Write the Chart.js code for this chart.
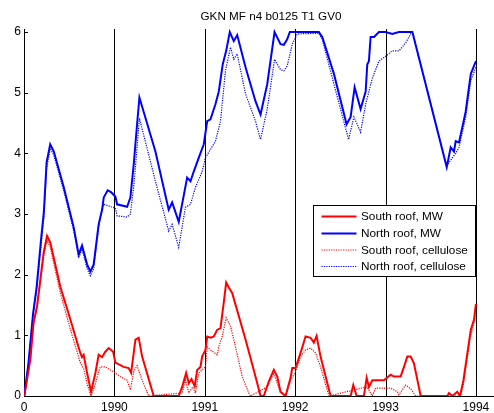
<!DOCTYPE html>
<html>
<head>
<meta charset="utf-8">
<script src="https://cdn.jsdelivr.net/npm/chart.js@4/dist/chart.umd.min.js"></script>
<style>
  html, body { margin: 0; padding: 0; background: #fff; }
  canvas { display: block; }
</style>
</head>
<body>
<canvas id="c" width="494" height="413"></canvas>
<script>
// Moisture content time series, 1989-1994, [year, value] pairs
const southMW = [
  [1989.003,0],[1989.07,0.6],[1989.106,1.21],[1989.144,1.48],[1989.181,1.92],[1989.217,2.36],
  [1989.255,2.64],[1989.291,2.53],[1989.402,1.80],[1989.513,1.26],[1989.623,0.71],[1989.642,0.64],
  [1989.66,0.68],[1989.698,0.38],[1989.742,0.07],[1989.79,0.38],[1989.826,0.68],[1989.864,0.64],
  [1989.9,0.73],[1989.937,0.79],[1989.986,0.73],[1990.011,0.55],[1990.103,0.48],[1990.158,0.46],
  [1990.185,0.38],[1990.233,0.93],[1990.269,0.96],[1990.307,0.65],[1990.435,0],[1990.712,0],
  [1990.75,0.15],[1990.794,0.38],[1990.823,0.21],[1990.853,0.28],[1990.889,0.16],[1990.916,0.43],
  [1990.952,0.48],[1990.971,0.65],[1991.008,0.76],[1991.027,0.98],[1991.063,0.96],[1991.1,0.98],
  [1991.137,1.09],[1991.174,1.12],[1991.21,1.54],[1991.237,1.87],[1991.266,1.79],[1991.303,1.70],
  [1991.451,0.93],[1991.561,0.32],[1991.617,0],[1991.653,0],[1991.709,0.24],[1991.764,0.43],
  [1991.802,0.32],[1991.838,0.07],[1991.894,0],[1991.949,0.30],[1991.968,0.46],[1992.004,0.46],
  [1992.06,0.71],[1992.115,0.98],[1992.171,0.96],[1992.207,0.88],[1992.237,0.99],[1992.281,0.65],
  [1992.392,0],[1992.614,0],[1992.643,0.18],[1992.68,0],[1992.761,0],[1992.791,0.30],
  [1992.816,0.15],[1992.854,0.26],[1992.982,0.26],[1993.057,0.35],[1993.093,0.32],[1993.167,0.32],
  [1993.204,0.48],[1993.241,0.65],[1993.278,0.65],[1993.314,0.54],[1993.389,0],[1993.684,0],
  [1993.702,0.05],[1993.74,0],[1993.794,0.07],[1993.824,0],[1993.862,0.26],[1993.906,0.71],
  [1993.943,1.09],[1993.979,1.26],[1994.0,1.52]
];
const northMW = [
  [1989.003,0],[1989.05,0.55],[1989.10,1.35],[1989.14,1.8],[1989.19,2.6],[1989.22,3.04],
  [1989.25,3.85],[1989.29,4.15],[1989.33,4.03],[1989.44,3.44],[1989.55,2.78],[1989.605,2.33],
  [1989.642,2.48],[1989.698,2.17],[1989.734,2.05],[1989.771,2.17],[1989.826,2.83],[1989.864,3.07],
  [1989.882,3.27],[1989.926,3.39],[1989.963,3.36],[1990.011,3.29],[1990.03,3.16],[1990.141,3.12],
  [1990.177,3.27],[1990.214,3.82],[1990.251,4.48],[1990.277,4.92],[1990.454,4.03],[1990.601,3.07],
  [1990.639,3.19],[1990.712,2.87],[1990.805,3.60],[1990.842,3.54],[1990.878,3.70],[1990.934,3.93],
  [1990.989,4.15],[1991.027,4.53],[1991.063,4.56],[1991.118,4.81],[1991.155,5.02],[1991.199,5.47],
  [1991.237,5.69],[1991.277,6.0],[1991.321,5.85],[1991.359,5.95],[1991.451,5.42],[1991.561,4.86],
  [1991.617,4.64],[1991.691,5.14],[1991.772,6.0],[1991.838,5.80],[1991.875,5.79],[1991.912,5.88],
  [1991.941,6.0],[1992.262,6.0],[1992.3,5.92],[1992.429,5.31],[1992.569,4.48],[1992.614,4.60],
  [1992.658,5.09],[1992.724,4.73],[1992.78,5.02],[1992.798,5.47],[1992.816,5.52],[1992.835,5.92],
  [1992.873,5.92],[1992.927,6.0],[1993.001,6.0],[1993.075,5.97],[1993.148,6.0],[1993.297,6.0],
  [1993.677,3.77],[1993.721,4.10],[1993.757,4.03],[1993.776,4.20],[1993.813,4.18],[1993.887,4.69],
  [1993.943,5.31],[1994.0,5.52]
];
const southCell = [
  [1989.003,0],[1989.07,0.6],[1989.106,1.2],[1989.144,1.45],[1989.181,1.88],[1989.217,2.3],
  [1989.255,2.56],[1989.291,2.45],[1989.402,1.7],[1989.513,1.1],[1989.623,0.55],[1989.66,0.45],
  [1989.698,0.2],[1989.742,0],[1989.79,0.2],[1989.826,0.40],[1989.845,0.48],[1989.9,0.48],
  [1989.956,0.43],[1990.011,0.38],[1990.066,0.32],[1990.141,0.26],[1990.177,0.10],[1990.214,0.40],
  [1990.251,0.50],[1990.307,0.26],[1990.38,0],[1990.75,0.05],[1990.786,0.26],[1990.823,0.05],
  [1990.867,0.15],[1990.897,0.05],[1990.934,0.38],[1990.971,0.43],[1991.008,0.48],[1991.027,0.81],
  [1991.063,0.76],[1991.137,0.68],[1991.155,0.81],[1991.193,0.98],[1991.237,1.29],[1991.285,1.15],
  [1991.34,0.81],[1991.414,0.32],[1991.487,0.05],[1991.506,0],[1991.691,0.15],[1991.764,0.38],
  [1991.838,0.05],[1991.894,0],[1991.949,0.26],[1992.004,0.40],[1992.06,0.65],[1992.115,0.76],
  [1992.171,0.79],[1992.226,0.71],[1992.281,0.48],[1992.373,0],[1992.791,0.15],[1992.816,0.10],
  [1992.854,0],[1992.89,0.13],[1993.001,0.13],[1993.057,0.13],[1993.131,0.07],[1993.148,0.02],
  [1993.222,0.18],[1993.278,0.12],[1993.333,0],[1993.831,0],[1993.862,0.2],[1993.906,0.65],
  [1993.943,1.0],[1993.979,1.2],[1994.0,1.38]
];
const northCell = [
  [1989.003,0],[1989.05,0.55],[1989.10,1.35],[1989.14,1.75],[1989.19,2.5],[1989.22,2.95],
  [1989.25,3.75],[1989.29,4.08],[1989.33,3.97],[1989.44,3.38],[1989.55,2.72],[1989.605,2.28],
  [1989.642,2.42],[1989.698,2.1],[1989.734,1.98],[1989.771,2.1],[1989.826,2.78],[1989.845,2.95],
  [1989.882,3.16],[1989.926,3.14],[1989.963,3.12],[1990.011,3.10],[1990.03,2.97],[1990.141,2.95],
  [1990.177,3.0],[1990.214,3.45],[1990.251,4.1],[1990.277,4.58],[1990.454,3.54],[1990.601,2.72],
  [1990.639,2.83],[1990.712,2.45],[1990.786,3.11],[1990.842,3.16],[1990.897,3.44],[1990.971,3.70],
  [1991.008,3.93],[1991.118,4.2],[1991.174,4.53],[1991.229,5.36],[1991.285,5.75],[1991.321,5.55],
  [1991.359,5.64],[1991.451,4.98],[1991.561,4.53],[1991.617,4.23],[1991.691,4.73],[1991.772,5.55],
  [1991.838,5.38],[1991.875,5.36],[1991.912,5.44],[1991.968,5.80],[1992.023,5.97],[1992.262,5.98],
  [1992.3,5.88],[1992.429,5.14],[1992.591,4.23],[1992.65,4.60],[1992.724,4.35],[1992.78,4.81],
  [1992.854,5.24],[1992.927,5.52],[1993.001,5.60],[1993.075,5.69],[1993.148,5.69],[1993.222,5.82],
  [1993.278,5.97],[1993.297,6.0],[1993.677,3.79],[1993.74,3.93],[1993.776,4.0],[1993.813,4.1],
  [1993.887,4.6],[1993.943,5.2],[1994.0,5.42]
];

const seriesLabels = ['South roof, MW', 'North roof, MW', 'South roof, cellulose', 'North roof, cellulose'];
const yearTicks = [1989, 1990, 1991, 1992, 1993, 1994];
const yearTickLabels = ['0', '1990', '1991', '1992', '1993', '1994'];
const yearMarkers = [1990, 1991, 1992, 1993, 1994];
const valueTicks = [0, 1, 2, 3, 4, 5, 6];
const titleText = 'GKN MF n4 b0125 T1 GV0';

const FONT = "'Liberation Sans', Arial, sans-serif";
const RED = '#ff0000';
const BLUE = '#0000ff';

const toXY = arr => arr.map(p => ({ x: p[0], y: p[1] }));

function solid(label, data, color) {
  return { label, data: toXY(data), borderColor: color, backgroundColor: color,
    borderWidth: 2, pointRadius: 0, tension: 0, fill: false, order: 1 };
}
function dotted(label, data, color) {
  return { label, data: toXY(data), borderColor: color, backgroundColor: color,
    borderWidth: 1.2, borderDash: [1.2, 1.2], pointRadius: 0, tension: 0, fill: false, order: 0 };
}

// Year separators, inward tick marks, title and an in-plot legend
const decorations = {
  id: 'decorations',
  beforeDatasetsDraw(chart) {
    const { ctx, chartArea, scales: { x, y } } = chart;
    ctx.save();
    ctx.strokeStyle = '#000';
    ctx.lineWidth = 1;
    yearMarkers.forEach(v => {
      const px = Math.round(x.getPixelForValue(v)) + 0.5;
      ctx.beginPath();
      ctx.moveTo(px, y.getPixelForValue(0));
      ctx.lineTo(px, chartArea.top);
      ctx.stroke();
    });
    // inward ticks
    valueTicks.forEach(v => {
      const py = Math.round(y.getPixelForValue(v)) + 0.5;
      ctx.beginPath();
      ctx.moveTo(chartArea.left, py);
      ctx.lineTo(chartArea.left + 4, py);
      ctx.stroke();
    });
    yearTicks.forEach(v => {
      const px = Math.round(x.getPixelForValue(v)) + 0.5;
      ctx.beginPath();
      ctx.moveTo(px, chartArea.bottom);
      ctx.lineTo(px, chartArea.bottom - 4);
      ctx.stroke();
    });
    ctx.restore();
  },
  afterDraw(chart) {
    const { ctx } = chart;
    ctx.save();
    // title
    ctx.fillStyle = '#000';
    ctx.font = '11.7px ' + FONT;
    ctx.textAlign = 'center';
    ctx.textBaseline = 'alphabetic';
    ctx.fillText(titleText, 271, 20);

    // legend box
    const bx = 313.5, by = 205.5, bw = 162, bh = 71;
    ctx.fillStyle = '#fff';
    ctx.fillRect(bx, by, bw, bh);
    ctx.strokeStyle = '#000';
    ctx.lineWidth = 1;
    ctx.strokeRect(bx, by, bw, bh);
    ctx.font = '11.8px ' + FONT;
    ctx.textAlign = 'left';
    ctx.textBaseline = 'middle';
    const rowY = [216.5, 233.5, 250, 266.5];
    chart.data.datasets.forEach((ds, i) => {
      const ry = rowY[i];
      ctx.beginPath();
      ctx.strokeStyle = ds.borderColor;
      ctx.lineWidth = ds.borderWidth;
      ctx.setLineDash(ds.borderDash || []);
      ctx.moveTo(321.5, ry);
      ctx.lineTo(356.5, ry);
      ctx.stroke();
      ctx.setLineDash([]);
      ctx.fillStyle = '#000';
      ctx.fillText(ds.label, 361, ry + 0.5);
    });
    ctx.restore();
  }
};

new Chart(document.getElementById('c'), {
  type: 'line',
  data: {
    datasets: [
      solid(seriesLabels[0], southMW, RED),
      solid(seriesLabels[1], northMW, BLUE),
      dotted(seriesLabels[2], southCell, RED),
      dotted(seriesLabels[3], northCell, BLUE)
    ]
  },
  options: {
    responsive: false,
    animation: false,
    devicePixelRatio: 1,
    layout: { padding: { top: 29, left: 0, right: 0, bottom: 0 } },
    plugins: { legend: { display: false }, title: { display: false }, tooltip: { enabled: false } },
    scales: {
      x: {
        type: 'linear',
        min: 1989,
        max: 1994.2,
        afterBuildTicks: s => { s.ticks = yearTicks.map(v => ({ value: v })); },
        afterFit: s => { s.height = 17; },
        grid: { display: false, drawTicks: false },
        border: { display: true, color: '#000', width: 1 },
        ticks: {
          autoSkip: false, maxRotation: 0, padding: 4, color: '#000',
          font: { family: FONT, size: 12 },
          callback: (v, i) => yearTickLabels[i]
        }
      },
      y: {
        type: 'linear',
        min: 0,
        max: 6.05,
        afterBuildTicks: s => { s.ticks = valueTicks.map(v => ({ value: v })); },
        afterFit: s => { s.width = 24; },
        grid: { display: false, drawTicks: false },
        border: { display: true, color: '#000', width: 1 },
        ticks: {
          padding: 3, color: '#000',
          font: { family: FONT, size: 12 },
          callback: v => String(v)
        }
      }
    }
  },
  plugins: [decorations]
});
</script>
</body>
</html>
